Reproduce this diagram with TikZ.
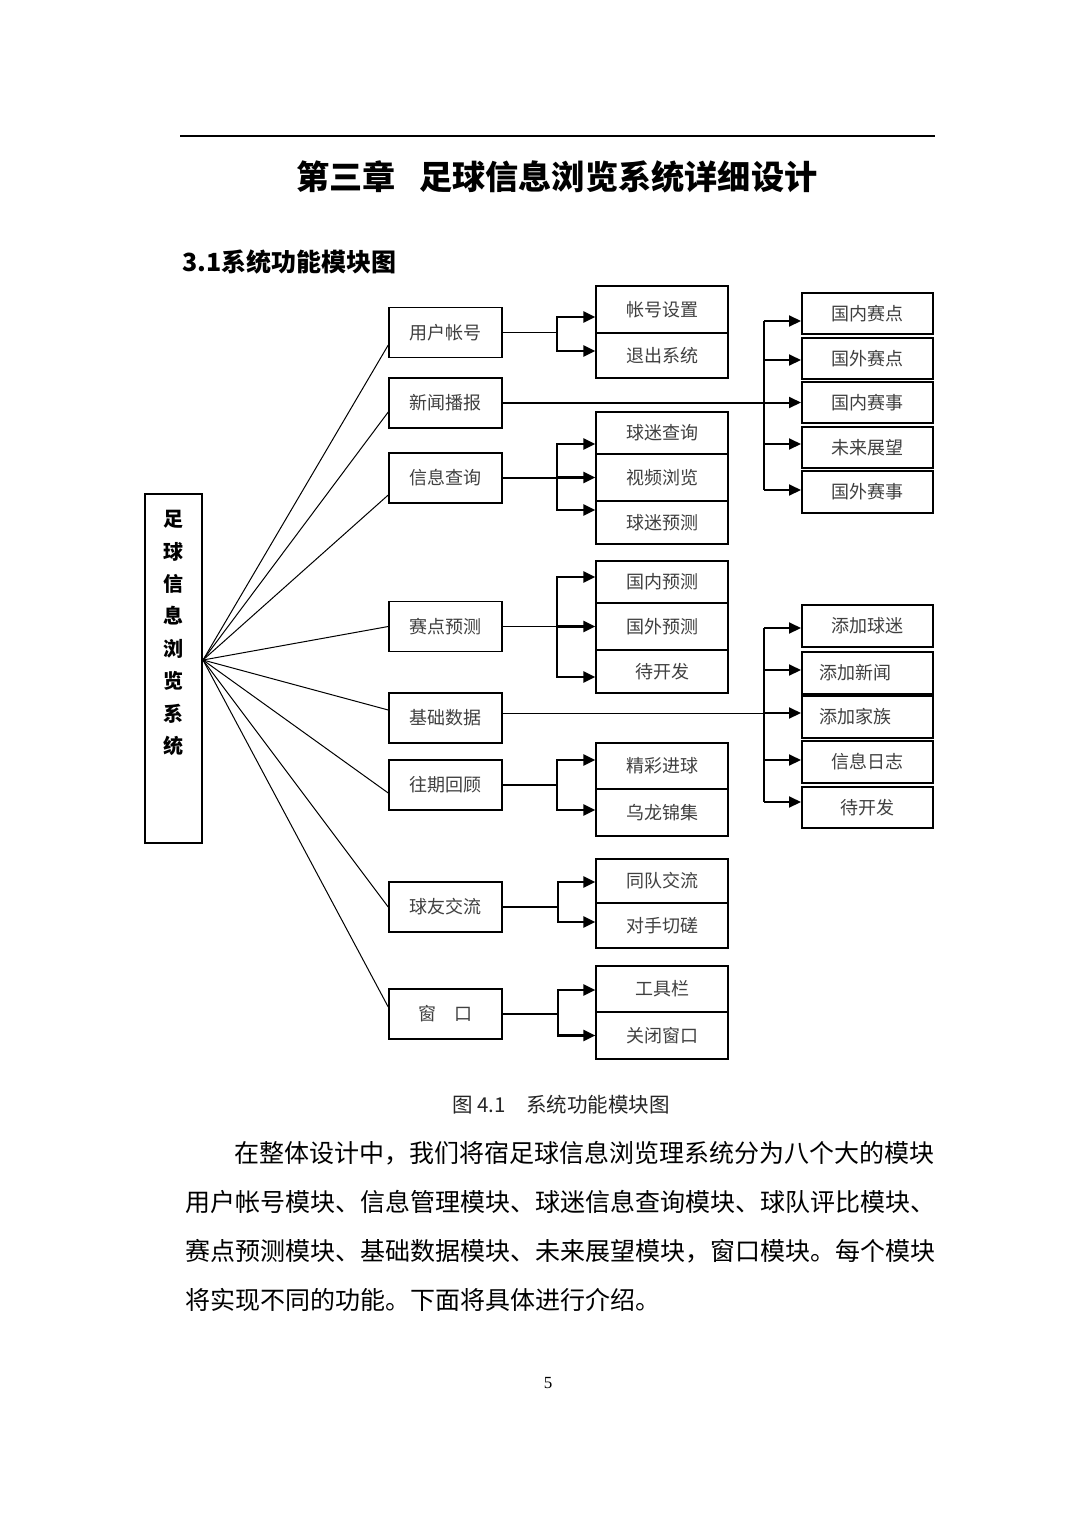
\documentclass[tikz,border=0pt]{standalone}
\usepackage{fontspec}
\setmainfont{Noto Sans CJK SC}
\newfontfamily\serifnum{Liberation Serif}
\usetikzlibrary{arrows.meta}
\begin{document}
\begin{tikzpicture}[x=1pt,y=-1pt,
  lbl/.style={font=\fontsize{18pt}{20pt}\selectfont, text=black!75},
  mbox/.style={draw, line width=1.5pt, minimum width=113pt, minimum height=50pt, inner sep=0pt, lbl},
  cell/.style={draw, line width=1.2pt, minimum width=132pt, inner sep=0pt, lbl},
  rcell/.style={draw, line width=2pt, minimum width=131pt, inner sep=0pt, lbl},
  fan/.style={line width=1pt},
  feed/.style={line width=1.6pt},
  thinfeed/.style={line width=1pt},
  bus/.style={line width=1.4pt},
  tip/.style={-{Triangle[length=12pt,width=11pt]}},
  brk/.style={line width=2.4pt, tip},
  harr/.style={line width=2pt, tip},
  body/.style={anchor=west, inner sep=0pt, font=\fontsize{25pt}{27pt}\selectfont}
]
\fill[white] (0,0) rectangle (1075,1518);
\useasboundingbox (0,0) rectangle (1075,1518);

% header
\draw[line width=1.5pt] (180,136) -- (935,136);
\node[font=\bfseries\fontsize{33.2pt}{38pt}\selectfont] (title) at (557,177) {第三章\hspace{23pt}足球信息浏览系统详细设计};
\node[anchor=west, inner sep=0pt, font=\bfseries\fontsize{25pt}{28pt}\selectfont] (sub) at (182,262) {3.1系统功能模块图};

% root
\node[draw, line width=1.5pt, minimum width=57pt, minimum height=349pt, inner sep=0pt] (sys) at (173.5,668.5) {};
\node[anchor=north, inner sep=0pt, align=center, font=\bfseries\fontsize{20pt}{32.4pt}\selectfont] (systxt) at ([yshift=-17pt]sys.north) {足\\球\\信\\息\\浏\\览\\系\\统};
\coordinate (hub) at (203,660);

% main modules
\node[mbox] (yh) at (445.5,332.5) {用户帐号};
\node[mbox] (xw) at (445.5,403) {新闻播报};
\node[mbox] (xx) at (445.5,478) {信息查询};
\node[mbox] (sd) at (445.5,626.5) {赛点预测};
\node[mbox] (jc) at (445.5,718) {基础数据};
\node[mbox] (wq) at (445.5,785) {往期回顾};
\node[mbox] (qy) at (445.5,907) {球友交流};
\node[mbox] (ck) at (445.5,1014) {窗\hspace{1em}口};

\draw[fan] (hub) -- ([yshift=-12.5pt]yh.west);
\draw[fan] (hub) -- ([yshift=-9pt]xw.west);
\draw[fan] (hub) -- ([yshift=-17pt]xx.west);
\draw[fan] (hub) -- (sd.west);
\draw[fan] (hub) -- ([yshift=8pt]jc.west);
\draw[fan] (hub) -- ([yshift=-8pt]wq.west);
\draw[fan] (hub) -- (qy.west);
\draw[fan] (hub) -- ([yshift=7pt]ck.west);

% left sub-columns
\node[cell, minimum height=47pt] (a1) at (662,309.5) {帐号设置};
\node[cell, minimum height=45pt] (a2) at (662,355.5) {退出系统};
\node[cell, minimum height=42pt] (b1) at (662,433) {球迷查询};
\node[cell, minimum height=47pt] (b2) at (662,477.5) {视频浏览};
\node[cell, minimum height=43pt] (b3) at (662,522.5) {球迷预测};
\node[cell, minimum height=42pt] (c1) at (662,582) {国内预测};
\node[cell, minimum height=47pt] (c2) at (662,626.5) {国外预测};
\node[cell, minimum height=43pt] (c3) at (662,671.5) {待开发};
\node[cell, minimum height=46pt] (d1) at (662,766) {精彩进球};
\node[cell, minimum height=47pt] (d2) at (662,812.5) {乌龙锦集};
\node[cell, minimum height=44pt] (e1) at (662,881) {同队交流};
\node[cell, minimum height=45pt] (e2) at (662,925.5) {对手切磋};
\node[cell, minimum height=46pt] (f1) at (662,989) {工具栏};
\node[cell, minimum height=47pt] (f2) at (662,1035.5) {关闭窗口};

% right columns
\node[rcell, minimum height=41pt] (r1) at (867.5,313.5) {国内赛点};
\node[rcell, minimum height=41pt] (r2) at (867.5,358.5) {国外赛点};
\node[rcell, minimum height=41pt] (r3) at (867.5,402.5) {国内赛事};
\node[rcell, minimum height=41pt] (r4) at (867.5,447.5) {未来展望};
\node[rcell, minimum height=42pt] (r5) at (867.5,492) {国外赛事};
\node[rcell, minimum height=42pt] (q1) at (867.5,626) {添加球迷};
\node[rcell, minimum height=42pt] (q2) at (867.5,673) {\hspace*{-24pt}添加新闻};
\node[rcell, minimum height=42pt] (q3) at (867.5,717) {\hspace*{-24pt}添加家族};
\node[rcell, minimum height=42pt] (q4) at (867.5,762) {信息日志};
\node[rcell, minimum height=41pt] (q5) at (867.5,807.5) {待开发};

% group A
\coordinate (bA) at (557,332.5);
\coordinate (a1in) at ([yshift=-7.5pt]a1.west);
\coordinate (a2in) at ([yshift=4.5pt]a2.west);
\draw[feed] (yh.east) -- (bA);
\draw[brk] (bA) |- (a1in);
\draw[brk] (bA) |- (a2in);
% group B
\coordinate (bB) at (557,478);
\coordinate (b1in) at ([yshift=-11pt]b1.west);
\coordinate (b2in) at (b2.west);
\coordinate (b3in) at ([yshift=12.5pt]b3.west);
\draw[feed] (xx.east) -- (bB);
\draw[brk] (bB) |- (b1in);
\draw[brk] (bB) |- (b2in);
\draw[brk] (bB) |- (b3in);
% group C
\coordinate (bC) at (557,626.5);
\coordinate (c1in) at ([yshift=5pt]c1.west);
\coordinate (c2in) at (c2.west);
\coordinate (c3in) at ([yshift=-5.5pt]c3.west);
\draw[feed] (sd.east) -- (bC);
\draw[brk] (bC) |- (c1in);
\draw[brk] (bC) |- (c2in);
\draw[brk] (bC) |- (c3in);
% group D
\coordinate (bD) at (557,785);
\coordinate (d1in) at ([yshift=6pt]d1.west);
\coordinate (d2in) at ([yshift=2.5pt]d2.west);
\draw[feed] (wq.east) -- (bD);
\draw[brk] (bD) |- (d1in);
\draw[brk] (bD) |- (d2in);
% group E
\coordinate (bE) at (558,907);
\coordinate (e1in) at ([yshift=-1pt]e1.west);
\coordinate (e2in) at ([yshift=3.5pt]e2.west);
\draw[feed] (qy.east) -- (bE);
\draw[brk] (bE) |- (e1in);
\draw[brk] (bE) |- (e2in);
% group F
\coordinate (bF) at (558,1014);
\coordinate (f1in) at ([yshift=-1pt]f1.west);
\coordinate (f2in) at (f2.west);
\draw[feed] (ck.east) -- (bF);
\draw[brk] (bF) |- (f1in);
\draw[brk] (bF) |- (f2in);

% right group 1
\coordinate (busR) at (764,0);
\coordinate (r1in) at ([yshift=-7.5pt]r1.west);
\coordinate (r2in) at ([yshift=-1.5pt]r2.west);
\coordinate (r3in) at (r3.west);
\coordinate (r4in) at ([yshift=3.5pt]r4.west);
\coordinate (r5in) at ([yshift=2pt]r5.west);
\draw[bus] (r1in -| busR) -- (r5in -| busR);
\draw[harr] (xw.east |- r3in) -- (r3in);
\draw[harr] (r1in -| busR) -- (r1in);
\draw[harr] (r2in -| busR) -- (r2in);
\draw[harr] (r4in -| busR) -- (r4in);
\draw[harr] (r5in -| busR) -- (r5in);

% right group 2
\coordinate (q1in) at ([yshift=-2pt]q1.west);
\coordinate (q2in) at ([yshift=3pt]q2.west);
\coordinate (q3in) at ([yshift=4pt]q3.west);
\coordinate (q4in) at ([yshift=2pt]q4.west);
\coordinate (q5in) at ([yshift=5.5pt]q5.west);
\draw[bus] (q1in -| busR) -- (q5in -| busR);
\draw[thinfeed] (jc.east |- q3in) -- (q3in -| busR);
\draw[harr] (q3in -| busR) -- (q3in);
\draw[harr] (q1in -| busR) -- (q1in);
\draw[harr] (q2in -| busR) -- (q2in);
\draw[harr] (q4in -| busR) -- (q4in);
\draw[harr] (q5in -| busR) -- (q5in);

% caption and body
\node[font=\fontsize{20.5pt}{22pt}\selectfont, text=black!85] (cap) at (561,1105) {图 4.1\hspace{1em}系统功能模块图};
\node[body] (l1) at (234,1153) {在整体设计中，我们将宿足球信息浏览理系统分为八个大的模块};
\node[body] (l2) at (185,1202) {用户帐号模块、信息管理模块、球迷信息查询模块、球队评比模块、};
\node[body] (l3) at (185,1251) {赛点预测模块、基础数据模块、未来展望模块，窗口模块。每个模块};
\node[body] (l4) at (185,1300) {将实现不同的功能。下面将具体进行介绍。};
\node[font=\serifnum\fontsize{17pt}{18pt}\selectfont] (pg) at (548,1383) {5};
\end{tikzpicture}
\end{document}
